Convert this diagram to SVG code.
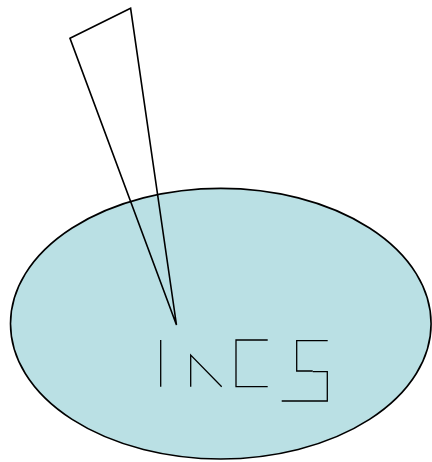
<svg xmlns="http://www.w3.org/2000/svg" width="432" height="462" viewBox="0 0 432 462">
<style>
.shape{stroke:#000;stroke-width:1.6;stroke-linejoin:miter}
.letter{fill:none;stroke:#000;stroke-width:1.3}
</style>
<rect width="432" height="462" fill="#fff"/>
<g id="ellipse">
<ellipse class="shape" cx="220.8" cy="323.7" rx="210.3" ry="135.3" fill="#bae0e4"/>
</g>
<g id="wedge">
<polygon class="shape" points="70,38.3 130.6,8.3 176.5,325" fill="none"/>
</g>
<g id="letters">
<line class="letter" x1="160.7" y1="340" x2="160.7" y2="386.7"/>
<polyline class="letter" points="190.7,386.7 190.7,355 221.7,386.7"/>
<polyline class="letter" points="267.7,340 236,340 236,386.7 267.7,386.7"/>
<polyline class="letter" points="327.7,340.7 296.7,340.7 296.7,371 312.7,371"/>
<polyline class="letter" points="312.7,371.7 327.3,371.7 327.3,401 281.7,401"/>
</g>
</svg>
